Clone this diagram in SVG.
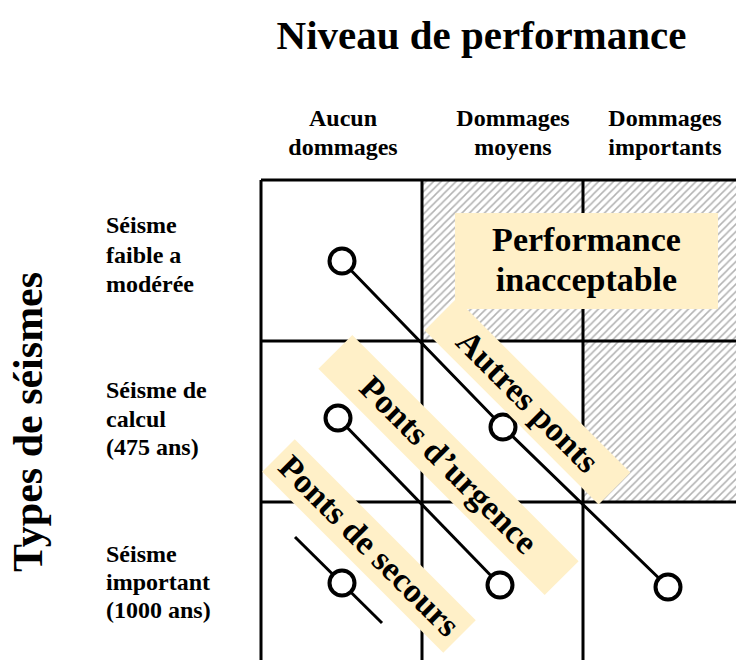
<svg xmlns="http://www.w3.org/2000/svg" width="736" height="660" viewBox="0 0 736 660">
<style>
text{font-family:"Liberation Serif","Times New Roman",serif;font-weight:bold;fill:#000}
.title{font-size:41px}
.axis{font-size:42px}
.hdr{font-size:24px;text-anchor:middle}
.row{font-size:24px}
.lbl{font-size:34px;text-anchor:middle}
.box{fill:#FFF0C8;stroke:none}
.grid{stroke:#000;stroke-width:3;fill:none}
.conn{stroke:#000;stroke-width:3;fill:none}
.dot{fill:#fff;stroke:#000;stroke-width:4}
</style>
<defs>
<pattern id="hatch" patternUnits="userSpaceOnUse" width="7.5" height="7.5">
<path d="M-1,1 L1,-1 M0,7.5 L7.5,0 M6.5,8.5 L8.5,6.5" stroke="#b2b2b2" stroke-width="1.5"/>
</pattern>
</defs>
<rect width="736" height="660" fill="#fff"/>
<text class="title" x="481.5" y="49" text-anchor="middle">Niveau de performance</text>
<text class="axis" transform="translate(42,422) rotate(-90)" text-anchor="middle">Types de séismes</text>
<g id="headers">
<text class="hdr" x="343" y="126">Aucun</text>
<text class="hdr" x="343" y="155">dommages</text>
<text class="hdr" x="513" y="126">Dommages</text>
<text class="hdr" x="513" y="155">moyens</text>
<text class="hdr" x="665" y="126">Dommages</text>
<text class="hdr" x="665" y="155">importants</text>
</g>
<g id="rows">
<text class="row" x="106" y="233">Séisme</text>
<text class="row" x="106" y="263">faible a</text>
<text class="row" x="106" y="292">modérée</text>
<text class="row" x="106" y="398">Séisme de</text>
<text class="row" x="106" y="427">calcul</text>
<text class="row" x="106" y="455">(475 ans)</text>
<text class="row" x="106" y="562">Séisme</text>
<text class="row" x="106" y="590">important</text>
<text class="row" x="106" y="618">(1000 ans)</text>
</g>
<g id="hatched">
<path d="M422,180 H736 V502 H583 V341 H422 Z" fill="url(#hatch)"/>
</g>
<g id="grid" class="grid">
<path d="M261,180 H736 M261,341 H736 M261,502 H736 M261,180 V660 M422,180 V660 M583,180 V660"/>
</g>
<g id="connectors">
<polyline class="conn" points="342,261 503,427 668,587"/>
<line class="conn" x1="338" y1="418" x2="500" y2="585"/>
<line class="conn" x1="295" y1="537" x2="382" y2="623"/>
<circle class="dot" cx="342" cy="261" r="12.5"/>
<circle class="dot" cx="503" cy="427" r="12.5"/>
<circle class="dot" cx="668" cy="587" r="12.5"/>
<circle class="dot" cx="338" cy="418" r="12.5"/>
<circle class="dot" cx="500" cy="585" r="12.5"/>
<circle class="dot" cx="342" cy="583" r="12.5"/>
</g>
<g id="performance-inacceptable">
<rect class="box" x="455" y="213" width="263" height="96"/>
<text class="lbl" x="586.5" y="251">Performance</text>
<text class="lbl" x="586.5" y="291">inacceptable</text>
</g>
<g id="autres-ponts" transform="translate(527.5,401.5) rotate(45)">
<rect class="box" x="-123" y="-22.5" width="246" height="45"/>
<text class="lbl" x="0" y="11">Autres ponts</text>
</g>
<g id="ponts-urgence" transform="translate(448.5,465) rotate(45)">
<rect class="box" x="-160" y="-24" width="320" height="48"/>
<text class="lbl" x="0" y="11">Ponts d’urgence</text>
</g>
<g id="ponts-secours" transform="translate(369,546) rotate(45)">
<rect class="box" x="-128" y="-23" width="256" height="46"/>
<text class="lbl" x="0" y="11">Ponts de secours</text>
</g>
</svg>
